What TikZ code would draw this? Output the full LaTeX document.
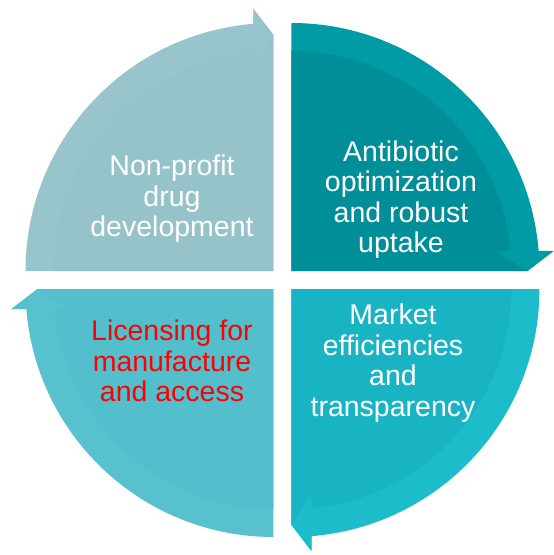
\documentclass[tikz,border=0pt]{standalone}
\usepackage{fontspec}
\setmainfont{Liberation Sans}
\definecolor{tlband}{HTML}{98C5CB}
\definecolor{tlinner}{HTML}{96C3C9}
\definecolor{trband}{HTML}{009CA6}
\definecolor{trinner}{HTML}{008F98}
\definecolor{brband}{HTML}{1CBCCA}
\definecolor{brinner}{HTML}{19B4C3}
\definecolor{blband}{HTML}{57C1CD}
\definecolor{blinner}{HTML}{54BFCC}
\tikzset{
  quadtext/.style={align=center, text=white, font=\fontsize{28.5}{30.5}\selectfont},
}
\begin{document}
\begin{tikzpicture}[x=1pt, y=1pt]
                    \useasboundingbox (-282.5,-275) rectangle (271.5,280);
                    % top right
                    \begin{scope}[shift={(9,9)}]
                    \fill[trband] (0,0) -- (0,248) arc[start angle=90, end angle=4.63, radius=248] -- (262,20) -- (236,0) -- cycle;
                    \fill[trinner] (0,0) -- (0,220) arc[start angle=90, end angle=2.6, radius=220] -- (236,0) -- cycle;
                    \fill[trband] (204,20) -- (262,20) -- (236,0) -- cycle;
                    \end{scope}
                    % top left
                    \begin{scope}[shift={(-9,9)}, rotate=90]
                    \fill[tlband] (0,0) -- (0,248) arc[start angle=90, end angle=4.63, radius=248] -- (262,20) -- (236,0) -- cycle;
                    \fill[tlinner] (0,0) -- (0,220) arc[start angle=90, end angle=2.6, radius=220] -- (236,0) -- cycle;
                    \fill[tlband] (204,20) -- (262,20) -- (236,0) -- cycle;
                    \end{scope}
                    % bottom left
                    \begin{scope}[shift={(-9,-9)}, rotate=180]
                    \fill[blband] (0,0) -- (0,248) arc[start angle=90, end angle=4.63, radius=248] -- (262,20) -- (236,0) -- cycle;
                    \fill[blinner] (0,0) -- (0,220) arc[start angle=90, end angle=2.6, radius=220] -- (236,0) -- cycle;
                    \fill[blband] (204,20) -- (262,20) -- (236,0) -- cycle;
                    \end{scope}
                    % bottom right
                    \begin{scope}[shift={(9,-9)}, rotate=270]
                    \fill[brband] (0,0) -- (0,248) arc[start angle=90, end angle=4.63, radius=248] -- (262,20) -- (236,0) -- cycle;
                    \fill[brinner] (0,0) -- (0,220) arc[start angle=90, end angle=2.6, radius=220] -- (236,0) -- cycle;
                    \fill[brband] (204,20) -- (262,20) -- (236,0) -- cycle;
                    \end{scope}
                    % texts
                    \node[quadtext] (nonprofit) at (-110.5,81) {Non-profit\\drug\\development};
                    \node[quadtext] (antibiotic) at (118.5,80.5) {Antibiotic\\optimization\\and robust\\uptake};
                    \node[quadtext] (market) at (110.5,-83) {Market\\efficiencies\\and\\transparency};
                    \node[quadtext, text=red] (licensing) at (-110.5,-81) {Licensing for\\manufacture\\and access};
                \end{tikzpicture}
\end{document}
